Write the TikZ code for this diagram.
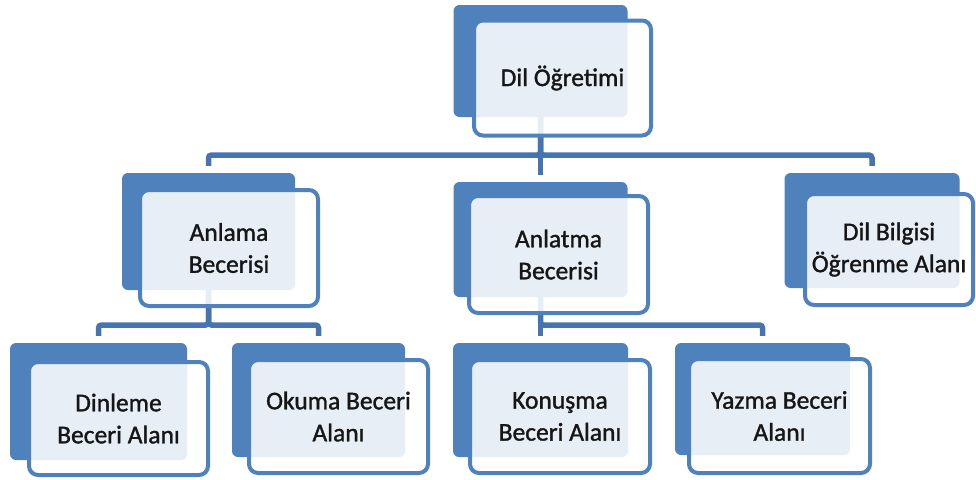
\documentclass[tikz,border=0pt]{standalone}
\usepackage{fontspec}
\setmainfont{Carlito}[FakeBold=1.3]
\definecolor{boxblue}{HTML}{4F81BD}
\definecolor{lineblue}{HTML}{4674B0}
\definecolor{txt}{HTML}{161616}
\tikzset{
  backbox/.style={fill=boxblue, draw=none, rounded corners=6pt, inner sep=0pt},
  frontbox/.style={draw=boxblue, line width=4pt, fill=white, fill opacity=0.87,
    text opacity=1, rounded corners=9pt, align=center, inner sep=0pt, text=txt,
    font=\fontsize{25.5}{32}\selectfont},
  conn/.style={draw=lineblue, line width=5.5pt, rounded corners=3pt, shorten >=7pt}
}
\begin{document}
\begin{tikzpicture}[x=1pt,y=-1pt]
\useasboundingbox (0,0) rectangle (976,479);
% back rectangles
\node[backbox, minimum width=174pt, minimum height=112pt] (b1) at (540.5,61) {};
\node[backbox, minimum width=173pt, minimum height=117pt] (bA) at (208.5,231.5) {};
\node[backbox, minimum width=174pt, minimum height=115pt] (bB) at (540.5,239.5) {};
\node[backbox, minimum width=175pt, minimum height=115pt] (bC) at (872,230.5) {};
\node[backbox, minimum width=177pt, minimum height=117pt] (bD) at (98.5,401.5) {};
\node[backbox, minimum width=173pt, minimum height=114pt] (bE) at (318.5,400) {};
\node[backbox, minimum width=175pt, minimum height=114pt] (bF) at (540.5,400) {};
\node[backbox, minimum width=175pt, minimum height=112pt] (bG) at (762.5,399) {};
% bus coordinates
\coordinate (busT) at (540.5,155);
\coordinate (busA) at (208.5,325);
\coordinate (busB) at (540.5,325);
% connectors
\draw[conn] (b1.south) -- (busT) -| (bA.north);
\draw[conn] (b1.south) -- (bB.north);
\draw[conn] (b1.south) -- (busT) -| (bC.north);
\draw[conn] (bA.south) -- (busA) -| (bD.north);
\draw[conn] (bA.south) -- (busA) -| (bE.north);
\draw[conn] (bB.south) -- (bF.north);
\draw[conn] (bB.south) -- (busB) -| (bG.north);
% front boxes
\node[frontbox, minimum width=177pt, minimum height=115pt] (f1) at (562.5,78) {Dil Öğretimi};
\node[frontbox, minimum width=178pt, minimum height=116pt] (fA) at (229,248) {Anlama\\Becerisi};
\node[frontbox, minimum width=179pt, minimum height=117pt] (fB) at (558.5,254.5) {Anlatma\\Becerisi};
\node[frontbox, minimum width=168pt, minimum height=111pt] (fC) at (889,249.5) {Dil Bilgisi\\Öğrenme Alanı};
\node[frontbox, minimum width=179pt, minimum height=113pt] (fD) at (118.5,418.5) {Dinleme\\Beceri Alanı};
\node[frontbox, minimum width=179pt, minimum height=113pt] (fE) at (338.5,416.5) {Okuma Beceri\\Alanı};
\node[frontbox, minimum width=180pt, minimum height=113pt] (fF) at (560,416.5) {Konuşma\\Beceri Alanı};
\node[frontbox, minimum width=181pt, minimum height=114pt] (fG) at (779.5,416) {Yazma Beceri\\Alanı};
\end{tikzpicture}
\end{document}
